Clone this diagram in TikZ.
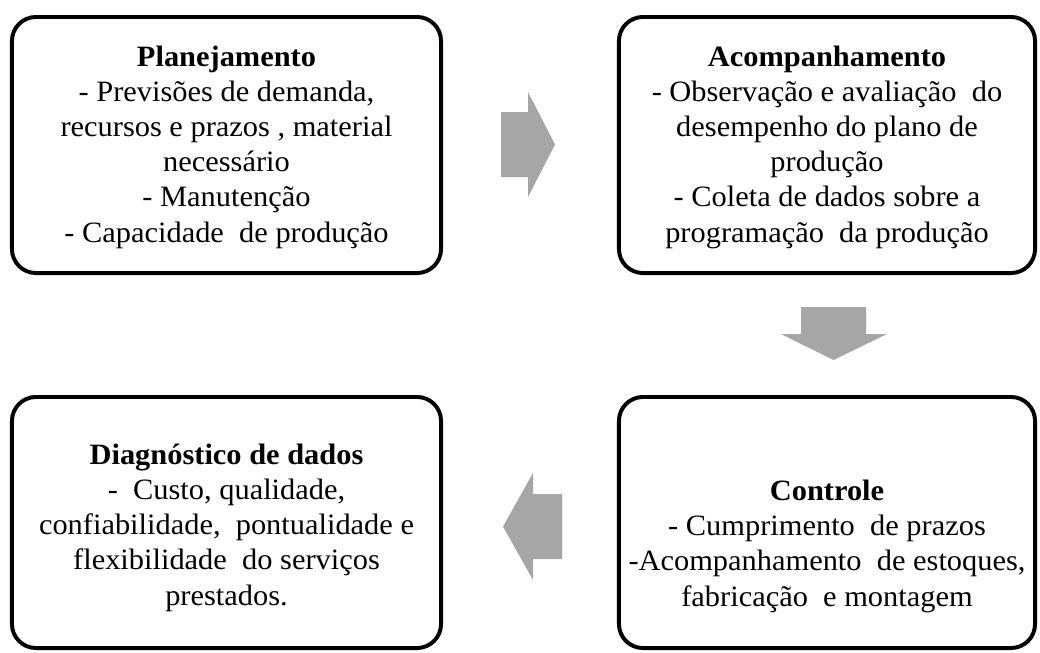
\documentclass[tikz,border=0pt]{standalone}
\usepackage{fontspec}
\setmainfont{Liberation Serif}[FakeStretch=1.03]
\definecolor{arrowgray}{HTML}{A6A6A6}
\tikzset{
    stage/.style={draw=black, line width=2.8pt, rounded corners=0.6cm, fill=white, inner sep=0pt},
    stagetext/.style={anchor=base, align=center, inner sep=0pt, font=\fontsize{21}{24.9}\selectfont},
    blockarrow/.style={fill=arrowgray}
}
\begin{document}
\begin{tikzpicture}[x=0.025cm, y=-0.025cm]
    \useasboundingbox (0,0) rectangle (1040,652);

        % the four stages (text placed at the baseline of its last line)
        \node[stage, minimum width=10.725cm, minimum height=6.4cm] (plan) at (226.5,145) {};
        \node[stagetext] (plantext) at (226.5,242) {\textbf{Planejamento}\\- Previsões de demanda,\\recursos e prazos\ , material\\necessário\\- Manutenção\\- Capacidade\ \ de produção};

        \node[stage, minimum width=10.4cm, minimum height=6.4cm] (follow) at (827,145) {};
        \node[stagetext] (followtext) at (827,242) {\textbf{Acompanhamento}\\- Observação e avaliação\ \ do\\desempenho do plano de\\produção\\- Coleta de dados sobre a\\programação\ \ da produção};

        \node[stage, minimum width=10.4cm, minimum height=6.275cm] (control) at (827,522.5) {};
        \node[stagetext] (controltext) at (827,606) {\textbf{Controle}\\- Cumprimento\ \ de prazos\\-Acompanhamento\ \ de estoques,\\fabricação\ \ e montagem};

        \node[stage, minimum width=10.725cm, minimum height=6.275cm] (diag) at (226.5,522.5) {};
        \node[stagetext] (diagtext) at (226.5,605) {\textbf{Diagnóstico de dados}\\-\ \ Custo, qualidade,\\confiabilidade,\ \ pontualidade e\\flexibilidade\ \ do serviços\\prestados.};

        % block arrows
        \fill[blockarrow] (501,112) -- (528,112) -- (528,92) -- (555,144.5) -- (528,197) -- (528,177) -- (501,177) -- cycle;
        \fill[blockarrow] (801,307) -- (866,307) -- (866,334) -- (887,334) -- (833.5,360) -- (781,334) -- (801,334) -- cycle;
        \fill[blockarrow] (562,494) -- (533,494) -- (533,473) -- (503,526.5) -- (533,580) -- (533,559) -- (562,559) -- cycle;
    \end{tikzpicture}
\end{document}
